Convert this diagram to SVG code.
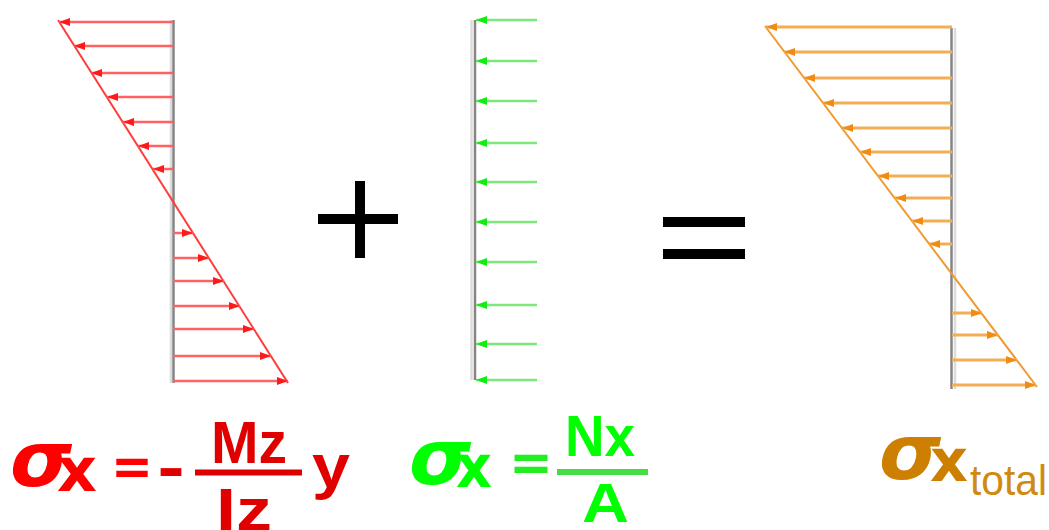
<svg xmlns="http://www.w3.org/2000/svg" width="1049" height="530" viewBox="0 0 1049 530">
<defs>
<style>
.ax-d{stroke:#858585;stroke-width:2.5;fill:none}
.ax-l{stroke:#dcdcdc;stroke-width:2.5;fill:none}
.rl{stroke:#ff6262;stroke-width:2.5;fill:none;marker-end:url(#ahr)}
.gl{stroke:#7ce87c;stroke-width:2.5;fill:none;marker-end:url(#ahg)}
.ol{stroke:#f4ad55;stroke-width:3;fill:none;marker-end:url(#aho)}
.f{font-family:"DejaVu Sans","Liberation Sans",sans-serif;font-weight:bold}
.fl{font-family:"Liberation Sans","DejaVu Sans",sans-serif;font-weight:bold}
.sig{font-style:italic}
</style>
<marker id="ahr" markerUnits="userSpaceOnUse" markerWidth="12" markerHeight="8" refX="11" refY="4" orient="auto"><path d="M0,0 L11,4 L0,8 z" fill="#ff1a1a"/></marker>
<marker id="ahg" markerUnits="userSpaceOnUse" markerWidth="12" markerHeight="8" refX="11" refY="4" orient="auto"><path d="M0,0 L11,4 L0,8 z" fill="#10ee10"/></marker>
<marker id="aho" markerUnits="userSpaceOnUse" markerWidth="12" markerHeight="8" refX="11" refY="4" orient="auto"><path d="M0,0 L11,4 L0,8 z" fill="#f08c14"/></marker>
</defs>
<rect width="1049" height="530" fill="#ffffff"/>

<g id="bending">
<line class="ax-l" x1="171" y1="20" x2="171" y2="383"/>
<line class="ax-d" x1="173.5" y1="20" x2="173.5" y2="383"/>
<line x1="58" y1="20" x2="288" y2="383" stroke="#ff3c3c" stroke-width="2"/>
<line class="rl" x1="173" y1="22" x2="59" y2="22"/>
<line class="rl" x1="173" y1="46" x2="74" y2="46"/>
<line class="rl" x1="173" y1="73" x2="91" y2="73"/>
<line class="rl" x1="173" y1="97" x2="107" y2="97"/>
<line class="rl" x1="173" y1="122" x2="123" y2="122"/>
<line class="rl" x1="173" y1="146" x2="138" y2="146"/>
<line class="rl" x1="173" y1="169" x2="153" y2="169"/>
<line class="rl" x1="173" y1="233" x2="193" y2="233"/>
<line class="rl" x1="173" y1="258" x2="209" y2="258"/>
<line class="rl" x1="173" y1="281" x2="224" y2="281"/>
<line class="rl" x1="173" y1="306" x2="240" y2="306"/>
<line class="rl" x1="173" y1="329" x2="254" y2="329"/>
<line class="rl" x1="173" y1="356" x2="271" y2="356"/>
<line class="rl" x1="173" y1="381" x2="288" y2="381"/>
</g>

<g id="plus">
<line x1="360" y1="181" x2="360" y2="258" stroke="#000" stroke-width="10"/>
<line x1="318" y1="219" x2="398" y2="219" stroke="#000" stroke-width="10"/>
</g>

<g id="normal">
<line class="ax-l" x1="471.5" y1="20" x2="471.5" y2="380"/>
<line class="ax-d" x1="475" y1="20" x2="475" y2="380"/>
<line class="gl" x1="537" y1="20" x2="476" y2="20"/>
<line class="gl" x1="537" y1="61" x2="476" y2="61"/>
<line class="gl" x1="537" y1="101" x2="476" y2="101"/>
<line class="gl" x1="537" y1="143" x2="476" y2="143"/>
<line class="gl" x1="537" y1="182" x2="476" y2="182"/>
<line class="gl" x1="537" y1="222" x2="476" y2="222"/>
<line class="gl" x1="537" y1="262" x2="476" y2="262"/>
<line class="gl" x1="537" y1="305" x2="476" y2="305"/>
<line class="gl" x1="537" y1="344" x2="476" y2="344"/>
<line class="gl" x1="537" y1="380" x2="476" y2="380"/>
</g>

<g id="equals">
<line x1="663" y1="222" x2="745" y2="222" stroke="#000" stroke-width="10"/>
<line x1="663" y1="254" x2="745" y2="254" stroke="#000" stroke-width="10"/>
</g>

<g id="total">
<line class="ax-d" x1="951.5" y1="28" x2="951.5" y2="389"/>
<line class="ax-l" x1="955" y1="28" x2="955" y2="389"/>
<line x1="765" y1="26" x2="1037" y2="387" stroke="#f09a30" stroke-width="2"/>
<line class="ol" x1="952" y1="27" x2="766" y2="27"/>
<line class="ol" x1="952" y1="52" x2="784" y2="52"/>
<line class="ol" x1="952" y1="78" x2="804" y2="78"/>
<line class="ol" x1="952" y1="103" x2="823" y2="103"/>
<line class="ol" x1="952" y1="128" x2="842" y2="128"/>
<line class="ol" x1="952" y1="152" x2="860" y2="152"/>
<line class="ol" x1="952" y1="176" x2="878" y2="176"/>
<line class="ol" x1="952" y1="198" x2="895" y2="198"/>
<line class="ol" x1="952" y1="221" x2="912" y2="221"/>
<line class="ol" x1="952" y1="244" x2="929" y2="244"/>
<line class="ol" x1="952" y1="313" x2="982" y2="313"/>
<line class="ol" x1="952" y1="335" x2="998" y2="335"/>
<line class="ol" x1="952" y1="360" x2="1017" y2="360"/>
<line class="ol" x1="952" y1="385" x2="1036" y2="385"/>
</g>

<g id="formula-bending">
<text class="f sig" x="10" y="486" font-size="76" fill="#ff0000" textLength="62" lengthAdjust="spacingAndGlyphs">σ</text>
<text class="f" x="57" y="491" font-size="60" fill="#ff0000" textLength="40" lengthAdjust="spacingAndGlyphs">x</text>
<text class="f" x="111" y="485" font-size="54" fill="#ff0000" textLength="42" lengthAdjust="spacingAndGlyphs">=</text>
<text class="f" x="157" y="488" font-size="56" fill="#e00000" textLength="28" lengthAdjust="spacingAndGlyphs">-</text>
<text class="fl" x="211" y="463" font-size="60" fill="#e00000" textLength="76" lengthAdjust="spacingAndGlyphs">Mz</text>
<line x1="195" y1="472.5" x2="302" y2="472.5" stroke="#dd0000" stroke-width="6"/>
<text class="fl" x="216" y="530" font-size="60" fill="#e00000" textLength="56" lengthAdjust="spacingAndGlyphs">Iz</text>
<text class="fl" x="312" y="487" font-size="62" fill="#e00000" textLength="38" lengthAdjust="spacingAndGlyphs">y</text>
</g>

<g id="formula-normal">
<text class="f sig" x="409" y="484" font-size="76" fill="#00ff00" textLength="62" lengthAdjust="spacingAndGlyphs">σ</text>
<text class="f" x="456" y="487" font-size="58" fill="#00ff00" textLength="36" lengthAdjust="spacingAndGlyphs">x</text>
<text class="f" x="509" y="481" font-size="54" fill="#22ee22" textLength="44" lengthAdjust="spacingAndGlyphs">=</text>
<text class="fl" x="565" y="456" font-size="58" fill="#00ff00" textLength="70" lengthAdjust="spacingAndGlyphs">Nx</text>
<line x1="557" y1="472" x2="648" y2="472" stroke="#44dd44" stroke-width="6"/>
<text class="fl" x="582" y="522" font-size="56" fill="#00ff00" textLength="47" lengthAdjust="spacingAndGlyphs">A</text>
</g>

<g id="formula-total">
<text class="f sig" x="879" y="479" font-size="76" fill="#cc7f00" textLength="62" lengthAdjust="spacingAndGlyphs">σ</text>
<text class="f" x="930" y="481" font-size="58" fill="#cc7f00" textLength="38" lengthAdjust="spacingAndGlyphs">x</text>
<text x="970" y="495" font-size="43" fill="#d08a10" font-family="Liberation Sans, DejaVu Sans, sans-serif" textLength="77" lengthAdjust="spacingAndGlyphs">total</text>
</g>
</svg>
